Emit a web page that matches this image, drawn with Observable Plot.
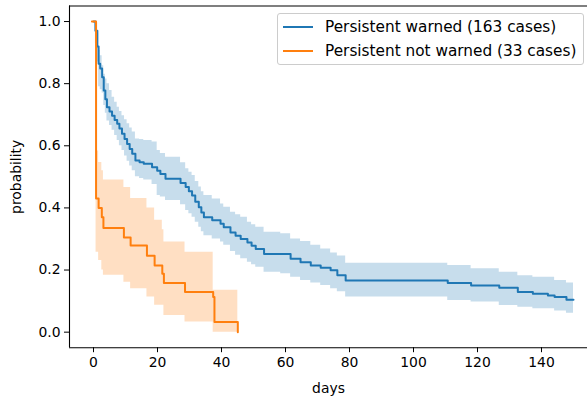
<!DOCTYPE html>
<html>
<head>
<meta charset="utf-8">
<script src="https://cdn.jsdelivr.net/npm/d3@7"></script>
<script src="https://cdn.jsdelivr.net/npm/@observablehq/plot@0.6"></script>
<style>
  html, body { margin: 0; padding: 0; background: #fff; overflow: hidden; }
  #wrap { position: relative; width: 587px; height: 402px; }
  #legend {
    position: absolute; left: 277px; top: 13px; width: 307px; height: 52px;
    box-sizing: border-box; border: 1px solid #cccccc; border-radius: 3px;
    background: rgba(255,255,255,0.8);
    font-family: "DejaVu Sans", sans-serif; font-size: 15.3px; color: #000;
  }
  .row { position: absolute; left: 0; height: 20px; display: flex; align-items: center; white-space: nowrap; }
  .swatch { display: inline-block; width: 30px; height: 0; border-top: 2px solid; margin-left: 5px; margin-right: 12px; }
</style>
</head>
<body>
<div id="wrap"></div>
<script>
// ---- data ----
const seriesNames = ["Persistent warned (163 cases)", "Persistent not warned (33 cases)"];
const seriesColors = ["#1f77b4", "#ff7f0e"];

const blueDays  = [0, 0.6, 1.2, 1.6, 2.1, 2.7, 3.2, 3.7, 4.2, 5.0, 5.8, 6.6, 7.4, 8.1, 8.9, 9.7, 10.5, 11.3, 12.1, 13.1, 14.4, 15.7, 18.3, 19.9, 20.9, 22.5, 27.2, 28.8, 29.8, 30.8, 31.8, 32.9, 33.7, 34.5, 37.1, 39.7, 40.7, 42.8, 44.4, 46, 48.1, 49.4, 50.7, 53.3, 58.5, 61.6, 64.7, 67.9, 71, 74.1, 76.2, 78.8, 110.7, 118, 126.8, 132.6, 137.3, 142, 144.1, 147.8, 150];
const blueSurv  = [1.0, 0.97, 0.92, 0.864, 0.849, 0.821, 0.778, 0.75, 0.724, 0.71, 0.697, 0.683, 0.671, 0.656, 0.639, 0.622, 0.606, 0.59, 0.574, 0.553, 0.547, 0.542, 0.531, 0.52, 0.509, 0.494, 0.48, 0.467, 0.454, 0.44, 0.42, 0.402, 0.385, 0.37, 0.36, 0.349, 0.338, 0.321, 0.31, 0.30, 0.289, 0.278, 0.268, 0.252, 0.252, 0.236, 0.225, 0.215, 0.207, 0.199, 0.183, 0.166, 0.158, 0.150, 0.143, 0.129, 0.124, 0.118, 0.113, 0.104, 0.104];
const blueUpper = [1.0, 0.99, 0.96, 0.907, 0.89, 0.858, 0.83, 0.815, 0.8, 0.778, 0.756, 0.74, 0.724, 0.71, 0.697, 0.684, 0.671, 0.657, 0.644, 0.622, 0.62, 0.617, 0.612, 0.585, 0.575, 0.563, 0.545, 0.526, 0.515, 0.504, 0.485, 0.467, 0.452, 0.44, 0.429, 0.413, 0.402, 0.386, 0.378, 0.37, 0.354, 0.346, 0.338, 0.322, 0.317, 0.30, 0.292, 0.28, 0.268, 0.255, 0.245, 0.222, 0.215, 0.204, 0.193, 0.182, 0.177, 0.177, 0.166, 0.158, 0.158];
const blueLower = [1.0, 0.93, 0.87, 0.79, 0.78, 0.77, 0.73, 0.705, 0.68, 0.665, 0.65, 0.633, 0.617, 0.6, 0.585, 0.567, 0.55, 0.535, 0.52, 0.5, 0.495, 0.49, 0.475, 0.44, 0.435, 0.424, 0.41, 0.392, 0.381, 0.37, 0.354, 0.338, 0.323, 0.31, 0.30, 0.29, 0.28, 0.26, 0.248, 0.236, 0.225, 0.217, 0.209, 0.193, 0.188, 0.177, 0.166, 0.158, 0.15, 0.14, 0.13, 0.113, 0.102, 0.097, 0.086, 0.08, 0.075, 0.075, 0.068, 0.061, 0.061];

const orangeDays  = [-0.5, 0.8, 1.6, 2.6, 3.1, 9.5, 11.6, 16.7, 19.1, 21.5, 22.0, 28.6, 37.4, 37.8, 45.1];
const orangeSurv  = [1, 0.43, 0.40, 0.37, 0.335, 0.305, 0.279, 0.246, 0.215, 0.188, 0.158, 0.129, 0.113, 0.033, 0];
const orangeUpper = [1, 0.583, 0.546, 0.52, 0.49, 0.466, 0.43, 0.40, 0.36, 0.33, 0.29, 0.257, 0.135, 0.135, 0.135];
const orangeLower = [1, 0.257, 0.231, 0.2, 0.183, 0.161, 0.14, 0.113, 0.087, 0.087, 0.054, 0.033, 0, 0, 0];

const xTicks = [0, 20, 40, 60, 80, 100, 120, 140];
const yTicks = [0.0, 0.2, 0.4, 0.6, 0.8, 1.0];
const xDomain = [-7.5, 157.5];
const yDomain = [-0.05, 1.05];

// ---- build tables ----
const toRows = (days, s, lo, hi, name) => days.map((d, i) => ({day: d, p: s[i], lo: lo[i], hi: hi[i], series: name}));
const blue = toRows(blueDays, blueSurv, blueLower, blueUpper, seriesNames[0]);
const orange = toRows(orangeDays, orangeSurv, orangeLower, orangeUpper, seriesNames[1]);

const chart = Plot.plot({
  width: 587,
  height: 402,
  marginLeft: 69,
  marginRight: 0,
  marginTop: 5.5,
  marginBottom: 54.8,
  style: {fontFamily: "DejaVu Sans, sans-serif", fontSize: "13.9px", color: "#000", background: "#fff"},
  x: {domain: xDomain, range: [69, 597]},
  y: {domain: yDomain},
  marks: [
    Plot.areaY(blue, {x: "day", y1: "lo", y2: "hi", curve: "step-after", fill: seriesColors[0], fillOpacity: 0.25}),
    Plot.lineY(blue, {x: "day", y: "p", curve: "step-after", stroke: seriesColors[0], strokeWidth: 2}),
    Plot.areaY(orange, {x: "day", y1: "lo", y2: "hi", curve: "step-after", fill: seriesColors[1], fillOpacity: 0.25}),
    Plot.lineY(orange, {x: "day", y: "p", curve: "step-after", stroke: seriesColors[1], strokeWidth: 2}),
    Plot.ruleY(yDomain, {stroke: "#000", strokeWidth: 1.1}),
    Plot.ruleX([xDomain[0]], {stroke: "#000", strokeWidth: 1.1}),
    Plot.axisX({ticks: xTicks, tickSize: 5, tickPadding: 4, tickFormat: d3.format("d"),
      label: "days", labelAnchor: "center", labelArrow: "none", labelOffset: 45}),
    Plot.axisY({ticks: yTicks, tickSize: 5, tickPadding: 4, tickFormat: d3.format(".1f"),
      label: "probability", labelAnchor: "center", labelArrow: "none", labelOffset: 58})
  ]
});

const wrap = document.getElementById("wrap");
wrap.appendChild(chart);

// legend overlay
const legend = document.createElement("div");
legend.id = "legend";
seriesNames.forEach((name, i) => {
  const row = document.createElement("div");
  row.className = "row";
  row.style.top = (i === 0 ? 3 : 27) + "px";
  const sw = document.createElement("span");
  sw.className = "swatch";
  sw.style.borderColor = seriesColors[i];
  const tx = document.createElement("span");
  tx.textContent = name;
  row.appendChild(sw);
  row.appendChild(tx);
  legend.appendChild(row);
});
wrap.appendChild(legend);
</script>
</body>
</html>
